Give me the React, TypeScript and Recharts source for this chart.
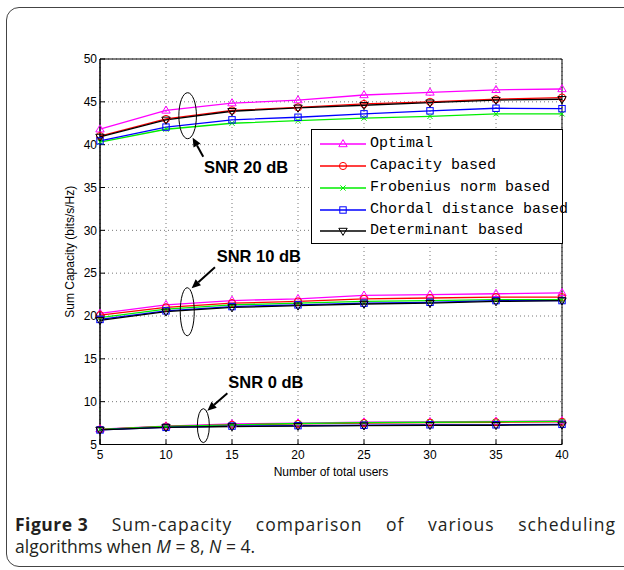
import React from "react";
import {
  LineChart,
  Line,
  XAxis,
  YAxis,
  CartesianGrid,
  ReferenceArea,
  ReferenceDot,
} from "recharts";

// x axis: number of total users
const users = [5, 10, 15, 20, 25, 30, 35, 40];
const yTicks = [5, 10, 15, 20, 25, 30, 35, 40, 45, 50];

// SNR 20 dB
const optimal20 = [41.8, 44.0, 44.85, 45.2, 45.8, 46.1, 46.4, 46.5];
const capacity20 = [41.0, 43.0, 44.0, 44.35, 44.75, 45.0, 45.3, 45.5];
const frobenius20 = [40.3, 41.8, 42.5, 42.8, 43.1, 43.3, 43.6, 43.6];
const chordal20 = [40.45, 42.05, 42.9, 43.2, 43.6, 43.95, 44.25, 44.2];
const determinant20 = [40.9, 42.9, 43.9, 44.3, 44.6, 44.9, 45.2, 45.3];

// SNR 10 dB
const optimal10 = [20.3, 21.3, 21.8, 22.0, 22.4, 22.5, 22.6, 22.7];
const capacity10 = [20.1, 21.0, 21.5, 21.7, 22.0, 22.1, 22.2, 22.2];
const frobenius10 = [19.8, 20.8, 21.3, 21.5, 21.7, 21.8, 21.9, 21.9];
const chordal10 = [19.6, 20.6, 21.1, 21.3, 21.5, 21.6, 21.8, 21.8];
const determinant10 = [19.5, 20.5, 21.0, 21.2, 21.4, 21.5, 21.7, 21.8];

// SNR 0 dB
const optimal0 = [6.8, 7.15, 7.4, 7.5, 7.6, 7.65, 7.7, 7.75];
const capacity0 = [6.75, 7.1, 7.3, 7.4, 7.5, 7.55, 7.6, 7.65];
const frobenius0 = [6.75, 7.1, 7.3, 7.45, 7.55, 7.6, 7.65, 7.7];
const chordal0 = [6.7, 7.0, 7.15, 7.2, 7.25, 7.3, 7.3, 7.35];
const determinant0 = [6.7, 7.0, 7.1, 7.15, 7.2, 7.25, 7.25, 7.3];

const algorithms = [
  { key: "optimal", name: "Optimal", color: "#ff00ff", marker: "triUp", vals: [optimal20, optimal10, optimal0] },
  { key: "capacity", name: "Capacity based", color: "#ff0000", marker: "circle", vals: [capacity20, capacity10, capacity0] },
  { key: "frobenius", name: "Frobenius norm based", color: "#00ee00", marker: "cross", vals: [frobenius20, frobenius10, frobenius0] },
  { key: "chordal", name: "Chordal distance based", color: "#0000ff", marker: "square", vals: [chordal20, chordal10, chordal0] },
  { key: "determinant", name: "Determinant based", color: "#000000", marker: "triDown", vals: [determinant20, determinant10, determinant0] },
];
const snrLevels = ["20", "10", "0"];

const data = users.map((u, i) => {
  const row: Record<string, number> = { users: u };
  algorithms.forEach((a) => {
    snrLevels.forEach((s, j) => {
      row[`${a.key}${s}`] = a.vals[j][i];
    });
  });
  return row;
});

// annotation anchors (data units) with pixel offsets for arrow and label
const notes = [
  { x: 11.64, y: 43.38, rx: 8.8, ry: 23, tip: [5, 22], tail: [15.6, 41], label: [16.3, 57.3], text: "SNR 20 dB" },
  { x: 11.61, y: 20.5, rx: 7, ry: 24, tip: [4.4, -23.4], tail: [27.7, -44.4], label: [29.4, -49.4], text: "SNR 10 dB" },
  { x: 12.83, y: 7.2, rx: 6, ry: 17, tip: [4, -15], tail: [24, -32.4], label: [25, -37.4], text: "SNR 0 dB" },
];

const font = '"Liberation Sans", Arial, Helvetica, sans-serif';

function Marker({ kind, cx, cy, color }: any) {
  const s = 3.6;
  if (kind === "triUp")
    return <polygon points={`${cx},${cy - s - 0.8} ${cx - s - 0.6},${cy + s * 0.75} ${cx + s + 0.6},${cy + s * 0.75}`} fill="none" stroke={color} strokeWidth={1} />;
  if (kind === "triDown")
    return <polygon points={`${cx},${cy + s + 0.8} ${cx - s - 0.6},${cy - s * 0.75} ${cx + s + 0.6},${cy - s * 0.75}`} fill="none" stroke={color} strokeWidth={1} />;
  if (kind === "circle") return <circle cx={cx} cy={cy} r={s} fill="none" stroke={color} strokeWidth={1} />;
  if (kind === "square")
    return <rect x={cx - s + 0.4} y={cy - s + 0.4} width={2 * s - 0.8} height={2 * s - 0.8} fill="none" stroke={color} strokeWidth={1} />;
  const c = 2.6;
  return (
    <path d={`M${cx - c},${cy - c}L${cx + c},${cy + c}M${cx - c},${cy + c}L${cx + c},${cy - c}`} stroke={color} strokeWidth={1} />
  );
}

function SnrNote(props: any) {
  const { cx, cy, note } = props;
  if (cx == null || cy == null) return null;
  const tx = cx + note.tip[0];
  const ty = cy + note.tip[1];
  const sx = cx + note.tail[0];
  const sy = cy + note.tail[1];
  const ang = Math.atan2(ty - sy, tx - sx);
  const len = 9;
  const half = 4;
  const bx = tx - len * Math.cos(ang);
  const by = ty - len * Math.sin(ang);
  const p1 = [bx + half * Math.sin(ang), by - half * Math.cos(ang)];
  const p2 = [bx - half * Math.sin(ang), by + half * Math.cos(ang)];
  return (
    <g>
      <ellipse cx={cx} cy={cy} rx={note.rx} ry={note.ry} fill="none" stroke="#000" strokeWidth={1} />
      <line x1={sx} y1={sy} x2={bx} y2={by} stroke="#000" strokeWidth={2} />
      <polygon points={`${tx},${ty} ${p1[0]},${p1[1]} ${p2[0]},${p2[1]}`} fill="#000" />
      <text x={cx + note.label[0]} y={cy + note.label[1]} fontFamily={font} fontWeight="bold" fontSize={16.5} fill="#000">
        {note.text}
      </text>
    </g>
  );
}

function LegendBox() {
  const rows = [14.3, 36, 57.7, 79.7, 101.3];
  return (
    <div
      style={{
        position: "absolute",
        left: 311,
        top: 129,
        width: 250,
        height: 113,
        border: "1px solid #000",
        background: "#fff",
      }}
    >
      {algorithms.map((a, i) => (
        <div key={a.key} style={{ position: "absolute", left: 0, top: rows[i] - 8, height: 16, width: 300 }}>
          <svg width={46} height={16} style={{ position: "absolute", left: 8, top: 0 }}>
            <line x1={0} y1={8} x2={46} y2={8} stroke={a.color} strokeWidth={1.3} />
            <Marker kind={a.marker} cx={23} cy={8} color={a.color} />
          </svg>
          <span
            style={{
              position: "absolute",
              left: 58,
              top: 0,
              lineHeight: "16px",
              fontFamily: '"Liberation Mono", "Courier New", monospace',
              fontSize: 15,
              color: "#000",
              whiteSpace: "nowrap",
            }}
          >
            {a.name}
          </span>
        </div>
      ))}
    </div>
  );
}

export default function App() {
  return (
    <div style={{ position: "absolute", left: 0, top: 0, width: 624, height: 570, overflow: "hidden", background: "#fff" }}>
      <div
        style={{
          position: "absolute",
          left: 6,
          top: 7,
          width: 660,
          height: 558,
          border: "1.3px solid #444",
          borderRadius: 13,
        }}
      />
      <div style={{ position: "absolute", left: 0, top: 0 }}>
        <LineChart width={624} height={480} data={data} margin={{ top: 59, right: 62, bottom: 4.5, left: 40 }}>
          <CartesianGrid strokeDasharray="1 3" stroke="#777" />
          <XAxis
            dataKey="users"
            type="number"
            domain={[5, 40]}
            ticks={users}
            height={31}
            tickSize={-5}
            tickMargin={11}
            axisLine={{ stroke: "#000" }}
            tickLine={{ stroke: "#000" }}
            tick={{ fontFamily: font, fontSize: 12, fill: "#000" }}
            label={{ value: "Number of total users", position: "insideBottom", offset: 0, fontFamily: font, fontSize: 12, fill: "#000" }}
          />
          <XAxis xAxisId="top" orientation="top" dataKey="users" type="number" domain={[5, 40]} ticks={users} height={0} tickSize={-5} tick={false} axisLine={false} tickLine={{ stroke: "#000" }} />
          <YAxis
            type="number"
            domain={[5, 50]}
            ticks={yTicks}
            width={60}
            tickSize={-5}
            tickMargin={8}
            axisLine={{ stroke: "#000" }}
            tickLine={{ stroke: "#000" }}
            tick={{ fontFamily: font, fontSize: 12, fill: "#000" }}
            label={{
              value: "Sum Capacity (bits/s/Hz)",
              angle: -90,
              position: "insideLeft",
              offset: 30,
              fontFamily: font,
              fontSize: 12,
              fill: "#000",
              style: { textAnchor: "middle" },
            }}
          />
          <YAxis yAxisId="r" orientation="right" type="number" domain={[5, 50]} ticks={yTicks} width={0} tickSize={-5} tick={false} axisLine={false} tickLine={{ stroke: "#000" }} />
          {snrLevels.map((s) =>
            algorithms.map((a) => (
              <Line
                key={`${a.key}${s}`}
                dataKey={`${a.key}${s}`}
                name={a.name}
                stroke={a.color}
                strokeWidth={1.3}
                isAnimationActive={false}
                dot={(p: any) => <Marker key={`${a.key}${s}-${p.index}`} kind={a.marker} cx={p.cx} cy={p.cy} color={a.color} />}
                activeDot={false}
              />
            ))
          )}
          <ReferenceArea x1={5} x2={40} y1={5} y2={50} fill="none" stroke="#000" strokeWidth={1} />
          {notes.map((n) => (
            <ReferenceDot key={n.text} x={n.x} y={n.y} r={1} shape={(p: any) => <SnrNote {...p} note={n} />} />
          ))}
        </LineChart>
      </div>
      <LegendBox />
      <div
        style={{
          position: "absolute",
          left: 15,
          top: 513,
          width: 601,
          fontFamily: '"Open Sans", "Noto Sans", sans-serif',
          fontSize: 17.5,
          lineHeight: "22px",
          color: "#231f20",
        }}
      >
        <div style={{ textAlign: "justify", textAlignLast: "justify", whiteSpace: "normal", letterSpacing: 1 }}>
          <b style={{ display: "inline-block", letterSpacing: 0.5 }}>Figure&nbsp;3</b> Sum-capacity comparison of various scheduling
        </div>
        <div>
          algorithms when <i>M</i> = 8, <i>N</i> = 4.
        </div>
      </div>
    </div>
  );
}
